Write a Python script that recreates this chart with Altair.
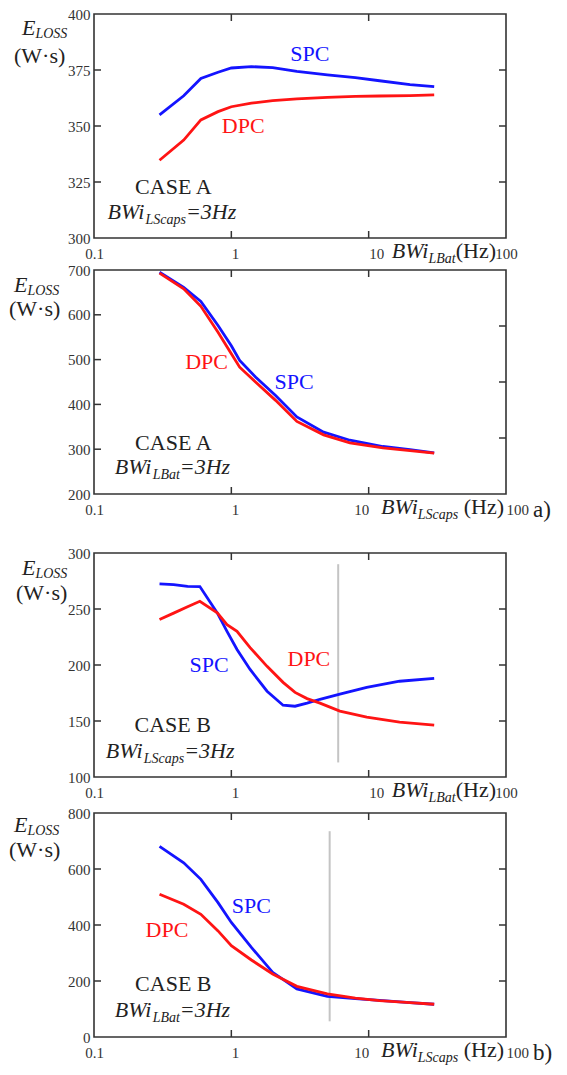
import altair as alt
import pandas as pd

FONT = "Liberation Serif"
W, H = 412, 224
BLUE = "#1414ff"
RED = "#ff1414"
INK = "#222222"

# ---------------- data ----------------
# Panel a1: CASE A, E_LOSS vs BWi_LBat
a1_f = [0.3, 0.45, 0.6, 0.8, 1.0, 1.4, 2.0, 3.0, 5.0, 8.0, 12, 20, 30]
a1_spc = [355.0, 363.5, 371.2, 374.0, 375.9, 376.5, 376.1, 374.4, 372.8, 371.6, 370.2, 368.5, 367.6]
a1_dpc = [334.7, 343.7, 352.7, 356.4, 358.6, 360.2, 361.3, 362.1, 362.8, 363.2, 363.4, 363.6, 363.9]

# Panel a2: CASE A, E_LOSS vs BWi_LScaps
a2_f = [0.3, 0.45, 0.6, 0.8, 1.0, 1.15, 1.5, 2.1, 3.0, 4.7, 7.3, 12.7, 20, 30]
a2_spc = [695, 661, 630, 576, 531, 498, 461, 420, 372, 338, 320, 306, 299, 292]
a2_dpc = [693, 658, 619, 561, 513, 483, 450, 409, 362, 332, 314, 303, 297, 291]

# Panel b1: CASE B, E_LOSS vs BWi_LBat
b1_f = [0.3, 0.38, 0.48, 0.59, 0.79, 0.93, 1.1, 1.37, 1.82, 2.38, 2.91, 3.56, 4.42, 6.17, 9.68, 16.8, 30]
b1_spc = [272.4, 271.8, 270.2, 270.0, 246.5, 230.1, 213.8, 196.0, 176.6, 164.1, 163.2, 165.9, 169.4, 173.9, 180.1, 185.5, 188.0]
b1_dpc = [240.6, 246.3, 252.0, 256.9, 246.5, 236.0, 230.0, 215.5, 198.8, 184.5, 175.5, 170.0, 166.0, 158.8, 153.4, 149.0, 146.4]
b1_marker = [6.0, 113, 290]   # grey vertical line: x, y-from, y-to

# Panel b2: CASE B, E_LOSS vs BWi_LScaps
b2_f = [0.3, 0.45, 0.6, 0.8, 1.0, 1.4, 2.0, 3.0, 5.0, 8.0, 12, 20, 30]
b2_spc = [681, 622, 563, 480, 409, 320, 231, 172, 145, 137, 131, 123, 117]
b2_dpc = [510, 474, 438, 379, 326, 275, 225, 181, 154, 139, 130, 123, 117]
b2_marker = [5.2, 56, 735]

x_ticks = [0.1, 1, 10, 100]
x_inner = [1, 10]

ONE = pd.DataFrame({"k": [0]})


def xenc(ten_right):
    if ten_right:
        la = {"condition": [{"test": "datum.value < 0.5", "value": "center"},
                            {"test": "datum.value > 5 && datum.value < 50", "value": "right"}],
              "value": "left"}
    else:
        la = {"condition": {"test": "datum.value < 0.5 || datum.value > 50", "value": "center"},
              "value": "left"}
    return alt.X("f:Q",
                 scale=alt.Scale(type="log", domain=[0.1, 100]),
                 axis=alt.Axis(values=x_ticks, format="~g", labelAlign=la,
                               labelBaseline="top", labelPadding=8, labelFlush=False,
                               labelOverlap=False, title=None))


def yenc(dom, vals):
    return alt.Y("v:Q",
                 scale=alt.Scale(domain=dom, nice=False, zero=False),
                 axis=alt.Axis(values=vals, labelPadding=4, labelOverlap=False,
                               title=None))


def panel(f, spc, dpc, dom, yvals, left_ticks, right_ticks, texts, bw_sub, bw_anchor,
          case_txt, case_pos, x_sub, x_space, e_left, e_base, ws_left, ws_base,
          marker=None, tag=None):
    X = xenc(x_space)
    Y = yenc(dom, yvals)
    df = pd.DataFrame({"f": f + f, "v": spc + dpc,
                       "s": ["SPC"] * len(f) + ["DPC"] * len(f)})
    layers = []
    if marker is not None:
        mdf = pd.DataFrame({"f": [marker[0]], "v": [marker[1]], "v2": [marker[2]]})
        layers.append(alt.Chart(mdf).mark_rule(color="#c4c4c4", strokeWidth=2).encode(
            x=X, y=Y, y2="v2:Q"))
    layers.append(alt.Chart(df).mark_line(strokeWidth=2.8).encode(
        x=X, y=Y,
        color=alt.Color("s:N", scale=alt.Scale(domain=["SPC", "DPC"], range=[BLUE, RED]),
                        legend=None),
        detail="s:N"))
    # inward ticks
    xt = pd.DataFrame({"f": x_inner})
    layers.append(alt.Chart(xt).mark_rule(color="#333", strokeWidth=1.5).encode(
        x=X, y=alt.value(0), y2=alt.value(7)))
    layers.append(alt.Chart(xt).mark_rule(color="#333", strokeWidth=1.5).encode(
        x=X, y=alt.value(H), y2=alt.value(H - 7)))
    lt = pd.DataFrame({"v": left_ticks})
    layers.append(alt.Chart(lt).mark_rule(color="#333", strokeWidth=1.5).encode(
        y=Y, x=alt.value(0), x2=alt.value(7)))
    rt = pd.DataFrame({"v": right_ticks})
    layers.append(alt.Chart(rt).mark_rule(color="#333", strokeWidth=1.5).encode(
        y=Y, x=alt.value(W), x2=alt.value(W - 7)))

    def dtext(fv, vv, s, color=INK, size=22, italic=False, align="center",
              baseline="middle", dx=0, dy=0):
        d = pd.DataFrame({"f": [fv], "v": [vv]})
        return alt.Chart(d).mark_text(text=s, font=FONT, fontSize=size,
                                      fontStyle="italic" if italic else "normal",
                                      align=align, baseline=baseline, color=color,
                                      dx=dx, dy=dy).encode(x=X, y=Y)

    def ptext(x, y, s, size=22, italic=False, align="left", color=INK):
        return alt.Chart(ONE).mark_text(text=s, font=FONT, fontSize=size,
                                        fontStyle="italic" if italic else "normal",
                                        align=align, baseline="alphabetic",
                                        color=color).encode(x=alt.value(x), y=alt.value(y))

    for (s, fv, vv, col) in texts:
        layers.append(dtext(fv, vv, s, color=col))
    layers.append(dtext(case_pos[0], case_pos[1], case_txt))
    # BWi_sub=3Hz annotation
    wB = 1.722 * 22
    wS = (2.889 if bw_sub == "LScaps" else 1.945) * 14
    layers.append(dtext(bw_anchor[0], bw_anchor[1], "BWi", italic=True, align="left",
                        baseline="alphabetic"))
    layers.append(dtext(bw_anchor[0], bw_anchor[1], bw_sub, size=14, italic=True,
                        align="left", baseline="alphabetic", dx=wB, dy=5))
    layers.append(dtext(bw_anchor[0], bw_anchor[1], "=3Hz", italic=True, align="left",
                        baseline="alphabetic", dx=wB + wS))
    # x-axis title
    hz = " (Hz)" if x_space else "(Hz)"
    w_hz = (2.082 if x_space else 1.832) * 22
    w_sub = (2.889 if x_sub == "LScaps" else 1.945) * 14
    xr = W - 2 if x_space else W - 10
    layers.append(ptext(xr, H + 20, hz, size=22, align="right"))
    layers.append(ptext(xr - w_hz, H + 25, x_sub, size=14, italic=True, align="right"))
    layers.append(ptext(xr - w_hz - w_sub, H + 20, "BWi", size=22, italic=True,
                        align="right"))
    # y-axis title
    layers.append(ptext(e_left, e_base, "E", italic=True))
    layers.append(ptext(e_left + 0.611 * 22, e_base + 3, "LOSS", size=14, italic=True))
    layers.append(ptext(ws_left, ws_base, "(W·s)"))
    if tag:
        layers.append(ptext(W + 27, 247, tag, size=23))
    return alt.layer(*layers).properties(width=W, height=H)


def spacer(h):
    return alt.Chart(ONE).mark_point(opacity=0).properties(
        width=W, height=h, view=alt.ViewBackground(stroke="transparent"))


p1 = panel(a1_f, a1_spc, a1_dpc, [300, 400], [300, 325, 350, 375, 400],
           [325, 350, 375], [325, 350, 375],
           [("SPC", 3.73, 382.2, BLUE), ("DPC", 1.22, 349.9, RED)],
           "LScaps", (0.1256, 308.7), "CASE A", (0.378, 322.7),
           "LBat", False, -72, 21, -80, 49)
p2 = panel(a2_f, a2_spc, a2_dpc, [200, 700], [200, 300, 400, 500, 600, 700],
           [300, 400, 500, 600], [325, 450, 575],
           [("DPC", 0.66, 495.4, RED), ("SPC", 2.86, 450.8, BLUE)],
           "LBat", (0.1416, 245.3), "CASE A", (0.378, 314),
           "LScaps", True, -80, 21.6, -85, 45.6, tag="a)")
p3 = panel(b1_f, b1_spc, b1_dpc, [100, 300], [100, 150, 200, 250, 300],
           [150, 200, 250], [150, 200, 250],
           [("SPC", 0.69, 199.8, BLUE), ("DPC", 3.67, 205.8, RED)],
           "LScaps", (0.122, 117.3), "CASE B", (0.374, 146.6),
           "LBat", False, -72, 21.7, -78, 46.7, marker=b1_marker)
p4 = panel(b2_f, b2_spc, b2_dpc, [0, 800], [0, 200, 400, 600, 800],
           [200, 400, 600], [200, 400, 600],
           [("SPC", 1.40, 468, BLUE), ("DPC", 0.34, 382, RED)],
           "LBat", (0.1416, 71), "CASE B", (0.378, 189.4),
           "LScaps", True, -80, 19.3, -85, 43.5, marker=b2_marker, tag="b)")

chart = alt.vconcat(
    p1, spacer(32), p2, spacer(59), p3, spacer(36), p4,
    spacing=0, bounds="flush",
).properties(
    padding={"left": 0, "top": -2, "right": 0, "bottom": 0},
    background="white",
).configure_view(
    stroke="#333333", strokeWidth=1.6
).configure_axis(
    grid=False, domain=False, ticks=False,
    labelFont=FONT, labelFontSize=15, labelColor="#333333",
)

chart.save("out.html", embed_options={"renderer": "svg", "actions": False})
